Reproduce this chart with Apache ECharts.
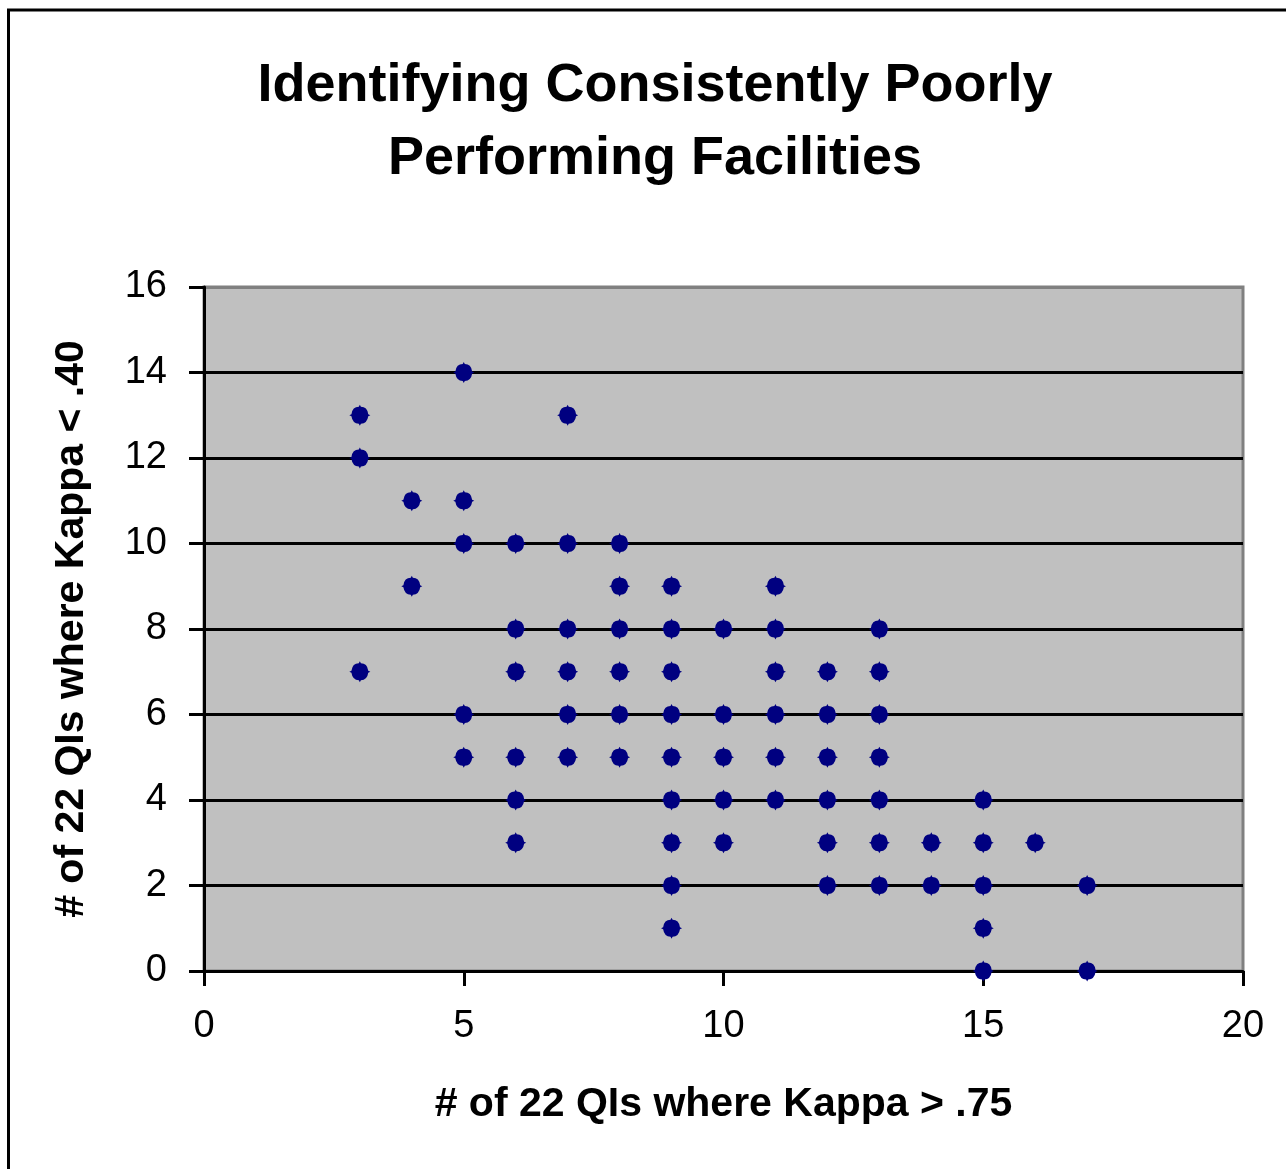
<!DOCTYPE html>
<html>
<head>
<meta charset="utf-8">
<script src="https://cdn.jsdelivr.net/npm/echarts@6/dist/echarts.min.js"></script>
<style>
  html, body { margin: 0; padding: 0; background: #fff; }
  #main { width: 1286px; height: 1169px; }
</style>
</head>
<body>
<div id="main"></div>
<script>
// # of QIs where Kappa > .75 (x) and # of QIs where Kappa < .40 (y), one pair per facility
var kappaHigh = [3, 3, 3, 4, 4, 5, 5, 5, 5, 5, 6, 6, 6, 6, 6, 6, 7, 7, 7, 7, 7, 7, 8, 8, 8, 8, 8, 8,
  9, 9, 9, 9, 9, 9, 9, 9, 9, 10, 10, 10, 10, 10, 11, 11, 11, 11, 11, 11, 12, 12, 12, 12, 12, 12,
  13, 13, 13, 13, 13, 13, 13, 14, 14, 15, 15, 15, 15, 15, 16, 17, 17];
var kappaLow = [13, 12, 7, 11, 9, 14, 11, 10, 6, 5, 10, 8, 7, 5, 4, 3, 13, 10, 8, 7, 6, 5, 10, 9, 8, 7, 6, 5,
  9, 8, 7, 6, 5, 4, 3, 2, 1, 8, 6, 5, 4, 3, 9, 8, 7, 6, 5, 4, 7, 6, 5, 4, 3, 2,
  8, 7, 6, 5, 4, 3, 2, 3, 2, 4, 3, 2, 1, 0, 3, 2, 0];

var titleText = 'Identifying Consistently Poorly\nPerforming Facilities';
var xName = '# of 22 QIs where Kappa > .75';
var yName = '# of 22 QIs where Kappa < .40';

var points = [];
for (var i = 0; i < kappaHigh.length; i++) {
  points.push([kappaHigh[i], kappaLow[i]]);
}

var font = 'Liberation Sans, Arial, sans-serif';
var chart = echarts.init(document.getElementById('main'));

// excel style marker: fat diamond with small tips
var marker = 'path://M10,0 L11,2 Q17,2 18,9 L20,10 L18,11 Q17,18 11,18 L10,20 L9,18 Q3,18 2,11 L0,10 L2,9 Q3,2 9,2 Z';

var option = {
  animation: false,
  backgroundColor: '#fff',
  graphic: [{
    type: 'rect',
    shape: { x: 8.5, y: 10, width: 1300, height: 1200 },
    style: { fill: 'none', stroke: '#000', lineWidth: 3 }
  }, {
    // title, a bit right of the page centre like the original
    type: 'text',
    x: 655,
    y: 50,
    style: {
      text: titleText,
      font: 'bold 54px ' + font,
      fill: '#000',
      align: 'center',
      verticalAlign: 'top',
      lineHeight: 73
    }
  }],
  grid: {
    left: 204,
    right: 43,
    top: 287,
    bottom: 198,
    show: true,
    backgroundColor: '#C0C0C0',
    borderColor: '#808080',
    borderWidth: 3
  },
  xAxis: {
    type: 'value',
    min: 0,
    max: 20,
    interval: 5,
    name: xName,
    nameLocation: 'middle',
    nameGap: 113,
    nameTextStyle: { fontFamily: font, fontSize: 41, fontWeight: 'bold', color: '#000' },
    axisLine: { show: true, lineStyle: { color: '#000', width: 3 } },
    axisTick: { show: true, length: 15, lineStyle: { color: '#000', width: 3 } },
    axisLabel: { margin: 37, fontFamily: font, fontSize: 38, color: '#000' },
    splitLine: { show: false }
  },
  yAxis: {
    type: 'value',
    min: 0,
    max: 16,
    interval: 2,
    name: yName,
    nameLocation: 'middle',
    nameGap: 112,
    nameTextStyle: { fontFamily: font, fontSize: 41, fontWeight: 'bold', color: '#000' },
    axisLine: { show: true, lineStyle: { color: '#000', width: 3 } },
    axisTick: { show: true, length: 15, lineStyle: { color: '#000', width: 3 } },
    axisLabel: { margin: 37, fontFamily: font, fontSize: 38, color: '#000' },
    splitLine: {
      show: true,
      lineStyle: {
        // last one sits on the grey plot border
        color: ['#000', '#000', '#000', '#000', '#000', '#000', '#000', '#000', '#808080'],
        width: 3
      }
    }
  },
  series: [{
    type: 'scatter',
    data: points,
    symbol: marker,
    symbolSize: 21,
    itemStyle: { color: '#000080', opacity: 1 }
  }]
};

chart.setOption(option);
window.onresize = chart.resize;
</script>
</body>
</html>
